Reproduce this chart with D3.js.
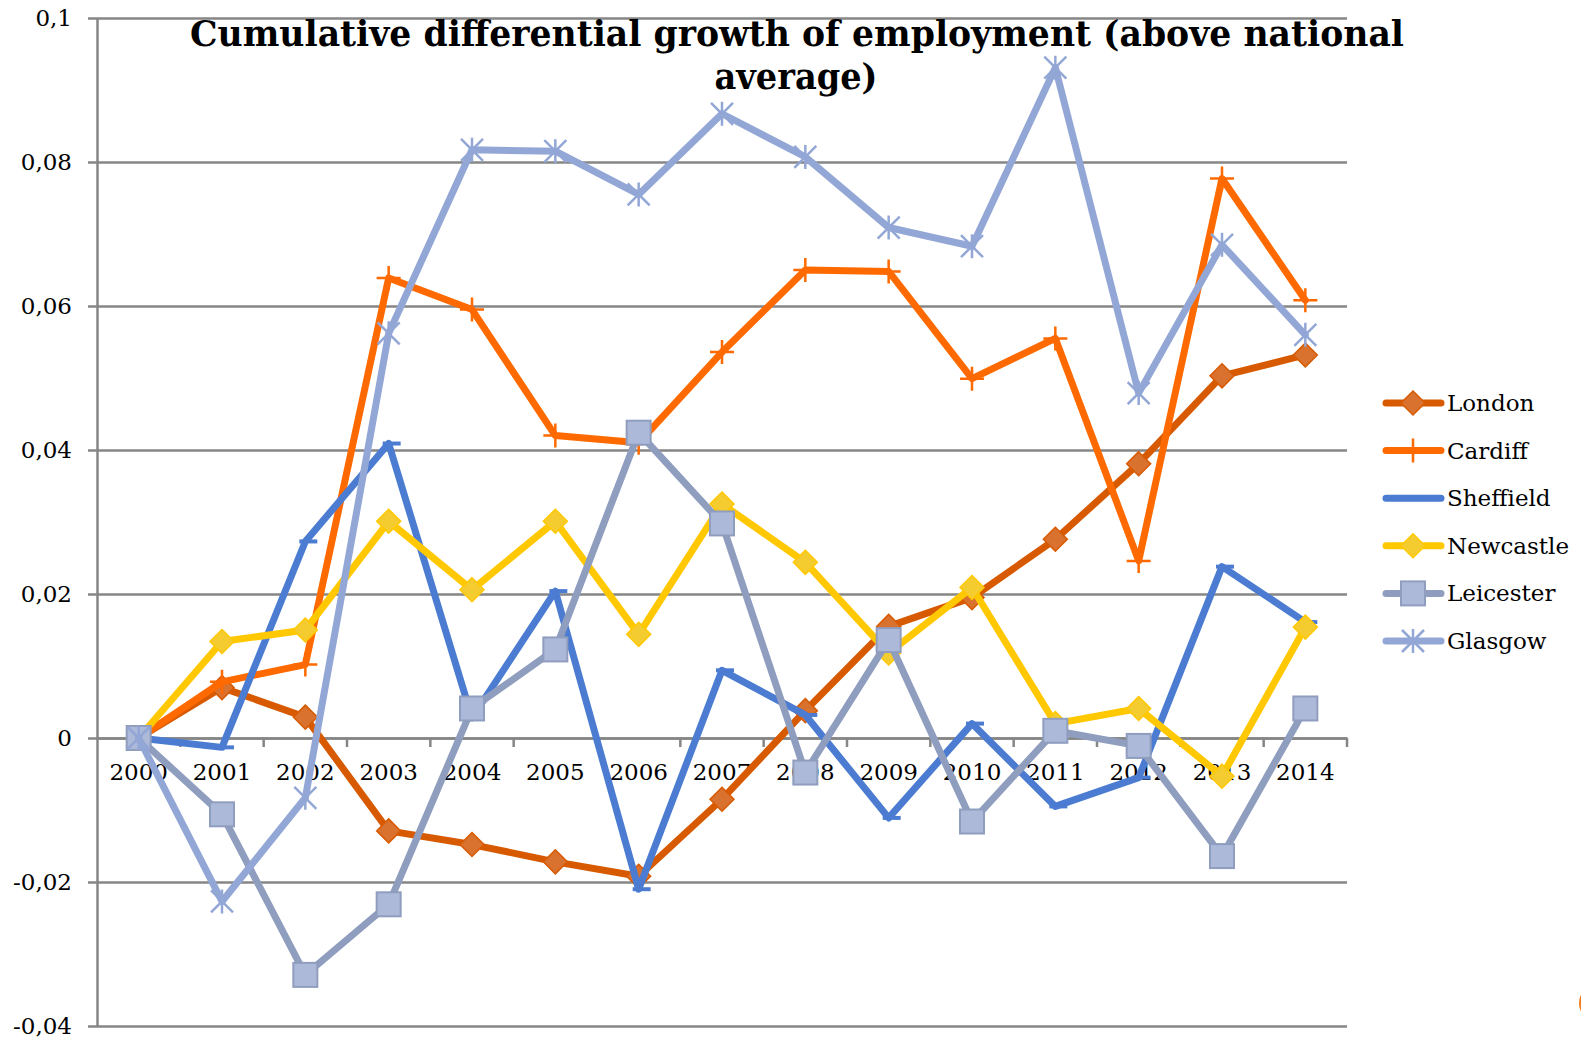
<!DOCTYPE html>
<html lang="en">
<head>
<meta charset="UTF-8">
<title>Cumulative differential growth of employment</title>
<style>
  body { margin: 0; background: #fff; }
  text { font-family: "DejaVu Serif", serif; fill: #000; }
</style>
</head>
<body>
<svg width="1581" height="1039"></svg>
<script src="https://d3js.org/d3.v7.min.js"></script>
<script>

var years = ["2000","2001","2002","2003","2004","2005","2006","2007","2008","2009","2010","2011","2012","2013","2014"];

var london    = [0, 0.0070, 0.0029, -0.0129, -0.0148, -0.0172, -0.0192, -0.0085, 0.0038, 0.0155, 0.0195, 0.0276, 0.0381, 0.0503, 0.0532];
var cardiff   = [0, 0.0078, 0.0102, 0.0639, 0.0595, 0.0420, 0.0410, 0.0536, 0.0650, 0.0648, 0.0499, 0.0555, 0.0246, 0.0777, 0.0608];
var sheffield = [0, -0.0013, 0.0273, 0.0409, 0.0028, 0.0204, -0.0210, 0.0094, 0.0032, -0.0111, 0.0020, -0.0095, -0.0055, 0.0238, 0.0161];
var newcastle = [0, 0.0134, 0.0150, 0.0301, 0.0206, 0.0301, 0.0144, 0.0325, 0.0244, 0.0118, 0.0209, 0.0020, 0.0041, -0.0053, 0.0154];
var leicester = [0, -0.0106, -0.0329, -0.0231, 0.0041, 0.0123, 0.0424, 0.0298, -0.0048, 0.0136, -0.0116, 0.0010, -0.0011, -0.0164, 0.0041];
var glasgow   = [0, -0.0227, -0.0083, 0.0562, 0.0817, 0.0815, 0.0755, 0.0867, 0.0807, 0.0709, 0.0683, 0.0931, 0.0479, 0.0685, 0.0560];

var yTicks = [-0.04, -0.02, 0, 0.02, 0.04, 0.06, 0.08, 0.1];

var series = [
  {name: "London",    values: london,    line: "#d85a00", fill: "#d8722e", marker: "diamond"},
  {name: "Cardiff",   values: cardiff,   line: "#ff6a00", fill: "#ff6a00", marker: "plus"},
  {name: "Sheffield", values: sheffield, line: "#4b7cd2", fill: "#4b7cd2", marker: "dash"},
  {name: "Newcastle", values: newcastle, line: "#ffc800", fill: "#f5cc30", marker: "diamond"},
  {name: "Leicester", values: leicester, line: "#8f9dbe", fill: "#adb9d9", marker: "square"},
  {name: "Glasgow",   values: glasgow,   line: "#93a7d6", fill: "#93a7d6", marker: "star"}
];

var plot = {left: 97, right: 1347, top: 18, bottom: 1026};

var svg = d3.select("svg");

var x = d3.scaleBand().domain(years).range([plot.left, plot.right]);
var y = d3.scaleLinear().domain([-0.04, 0.1]).range([plot.bottom, plot.top]);
var cx = function(yr) { return x(yr) + x.bandwidth() / 2; };

var fmt = d3.formatLocale({decimal: ",", thousands: ".", grouping: [3], currency: ["", ""], minus: "-"}).format("~g");

// gridlines + y axis
var yAxis = svg.append("g")
  .attr("transform", "translate(" + plot.left + ",0)")
  .call(d3.axisLeft(y).tickValues(yTicks).tickFormat(fmt).tickSizeInner(9).tickSizeOuter(0).tickPadding(16));
yAxis.select(".domain").attr("stroke", "#868686").attr("stroke-width", 2.5);
yAxis.selectAll(".tick line").attr("stroke", "#868686").attr("stroke-width", 2.5)
  .attr("x1", 0).attr("x2", -9);
yAxis.selectAll(".tick").append("line")
  .attr("x1", 0).attr("x2", plot.right - plot.left)
  .attr("stroke", "#868686").attr("stroke-width", 2.5);
yAxis.selectAll(".tick text").attr("font-size", 23).attr("font-family", "DejaVu Serif").attr("fill", "#000");

// x axis at zero
var xAxis = svg.append("g")
  .attr("transform", "translate(0," + y(0) + ")")
  .call(d3.axisBottom(x).tickSize(0).tickPadding(26));
xAxis.select(".domain").attr("stroke", "#868686").attr("stroke-width", 2.5);
xAxis.selectAll(".tick text").attr("font-size", 23).attr("font-family", "DejaVu Serif").attr("fill", "#000");
var bounds = years.slice(1).map(function(d) { return x(d); }).concat([plot.right]);
xAxis.selectAll(".bound").data(bounds).enter().append("line")
  .attr("x1", function(d) { return d; }).attr("x2", function(d) { return d; })
  .attr("y1", 0).attr("y2", 9)
  .attr("stroke", "#868686").attr("stroke-width", 2.5);

// markers
function drawMarker(g, s, px, py) {
  if (s.marker === "diamond") {
    g.append("path")
      .attr("d", "M" + px + "," + (py - 12) + "L" + (px + 12) + "," + py + "L" + px + "," + (py + 12) + "L" + (px - 12) + "," + py + "Z")
      .attr("fill", s.fill).attr("stroke", s.line).attr("stroke-width", 1.5);
  } else if (s.marker === "square") {
    g.append("rect")
      .attr("x", px - 12).attr("y", py - 12).attr("width", 24).attr("height", 24)
      .attr("fill", s.fill).attr("stroke", s.line).attr("stroke-width", 2);
  } else if (s.marker === "plus") {
    g.append("path")
      .attr("d", "M" + (px - 12) + "," + py + "H" + (px + 12) + "M" + px + "," + (py - 12) + "V" + (py + 12))
      .attr("stroke", s.line).attr("stroke-width", 2.5);
  } else if (s.marker === "dash") {
    g.append("path")
      .attr("d", "M" + (px - 6) + "," + py + "H" + (px + 12))
      .attr("stroke", s.line).attr("stroke-width", 4);
  } else if (s.marker === "star") {
    g.append("path")
      .attr("d", "M" + (px - 11) + "," + (py - 11) + "L" + (px + 11) + "," + (py + 11) +
                 "M" + (px - 11) + "," + (py + 11) + "L" + (px + 11) + "," + (py - 11) +
                 "M" + px + "," + (py - 12) + "V" + (py + 12))
      .attr("stroke", s.line).attr("stroke-width", 2.5);
  }
}

var line = d3.line()
  .x(function(d, i) { return cx(years[i]); })
  .y(function(d) { return y(d); });

series.forEach(function(s) {
  var g = svg.append("g").attr("class", "series");
  g.append("path")
    .datum(s.values)
    .attr("d", line)
    .attr("fill", "none")
    .attr("stroke", s.line)
    .attr("stroke-width", 7)
    .attr("stroke-linejoin", "round")
    .attr("stroke-linecap", "round");
  s.values.forEach(function(v, i) { drawMarker(g, s, cx(years[i]), y(v)); });
});

// legend
var legend = svg.append("g").attr("class", "legend");
series.forEach(function(s, i) {
  var ly = 403 + i * 47.6;
  var g = legend.append("g");
  g.append("line")
    .attr("x1", 1386).attr("x2", 1441).attr("y1", ly).attr("y2", ly)
    .attr("stroke", s.line).attr("stroke-width", 7).attr("stroke-linecap", "round");
  drawMarker(g, s, 1413, ly);
  g.append("text")
    .attr("x", 1447).attr("y", ly).attr("dy", "0.35em")
    .attr("font-size", 23)
    .text(s.name);
});

// title
svg.append("text")
  .attr("x", 797).attr("y", 46)
  .attr("text-anchor", "middle")
  .attr("font-size", 35).attr("font-weight", "bold")
  .attr("textLength", 1214).attr("lengthAdjust", "spacingAndGlyphs")
  .text("Cumulative differential growth of employment (above national");
svg.append("text")
  .attr("x", 796).attr("y", 89)
  .attr("text-anchor", "middle")
  .attr("font-size", 35).attr("font-weight", "bold")
  .attr("textLength", 163).attr("lengthAdjust", "spacingAndGlyphs")
  .text("average)");

// orange edge mark, bottom right
svg.append("circle")
  .attr("cx", 1597).attr("cy", 1003).attr("r", 18)
  .attr("fill", "#f47b20");

</script>
</body>
</html>
